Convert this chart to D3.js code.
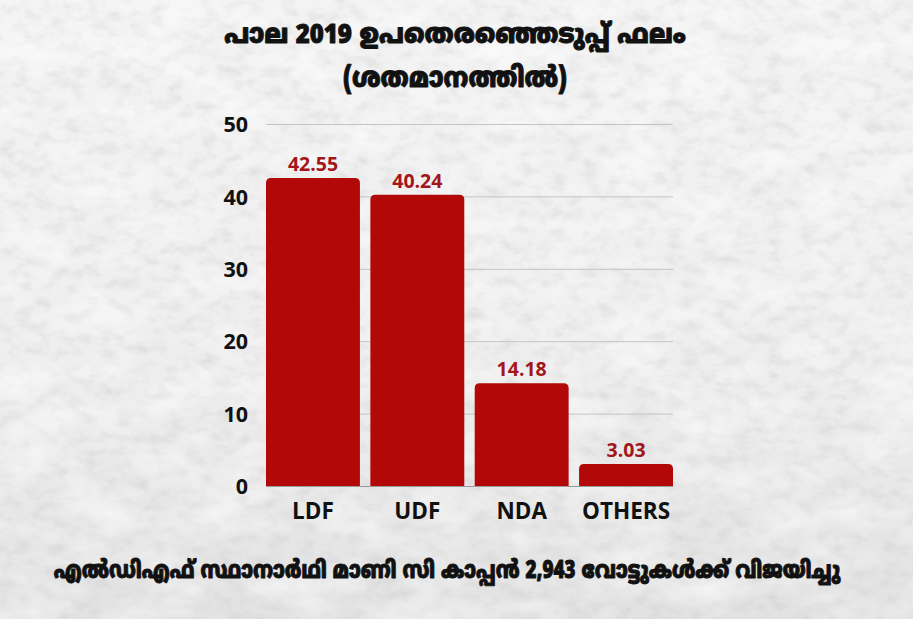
<!DOCTYPE html>
<html><head><meta charset="utf-8">
<script src="https://cdn.jsdelivr.net/npm/d3@7/dist/d3.min.js"></script>
<style>
html,body{margin:0;padding:0;background:#eee;}
svg{display:block;}
</style></head>
<body>
<svg id="c" width="913" height="619"></svg>
<script>
const categories = ["LDF","UDF","NDA","OTHERS"];
const values = [42.55, 40.24, 14.18, 3.03];
const valueLabels = ["42.55","40.24","14.18","3.03"];
const yTicks = [0,10,20,30,40,50];
const titleLines = ["പാല 2019 ഉപതെരഞ്ഞെടുപ്പ് ഫലം","(ശതമാനത്തിൽ)"];
const caption = "എൽഡിഎഫ് സ്ഥാനാർഥി മാണി സി കാപ്പൻ 2,943 വോട്ടുകൾക്ക് വിജയിച്ചു";

const W=913,H=619;
const svg=d3.select("#c");
const defs=svg.append("defs");
const f=defs.append("filter").attr("id","noise").attr("x",0).attr("y",0).attr("width","100%").attr("height","100%");
f.append("feTurbulence").attr("type","fractalNoise").attr("baseFrequency","0.06 0.09").attr("numOctaves",4).attr("seed",7).attr("result","t");
f.append("feColorMatrix").attr("in","t").attr("type","matrix")
 .attr("values","0 0 0 0 0.55  0 0 0 0 0.55  0 0 0 0 0.55  -2.2 0 0 0 1.25");
const f2=defs.append("filter").attr("id","noise2").attr("x",0).attr("y",0).attr("width","100%").attr("height","100%");
f2.append("feTurbulence").attr("type","fractalNoise").attr("baseFrequency","0.015 0.03").attr("numOctaves",3).attr("seed",2).attr("result","t");
f2.append("feColorMatrix").attr("in","t").attr("type","matrix")
 .attr("values","0 0 0 0 1  0 0 0 0 1  0 0 0 0 1  2 0 0 0 -0.8");
const g2=defs.append("linearGradient").attr("id","bg").attr("x1",0).attr("y1",0).attr("x2",0).attr("y2",1);
g2.append("stop").attr("offset","0").attr("stop-color","#f3f3f3");
g2.append("stop").attr("offset","0.6").attr("stop-color","#eeeeee");
g2.append("stop").attr("offset","1").attr("stop-color","#e2e2e2");
svg.append("rect").attr("width",W).attr("height",H).attr("fill","url(#bg)");
svg.append("rect").attr("width",W).attr("height",H).attr("filter","url(#noise)").attr("opacity",0.35);
svg.append("rect").attr("width",W).attr("height",H).attr("filter","url(#noise2)").attr("opacity",0.6);

const x=d3.scaleBand().domain(categories).range([266,673]).paddingInner(0.1).paddingOuter(0);
const y=d3.scaleLinear().domain([0,50]).range([486,124]);

// gridlines
svg.append("g").selectAll("line").data(yTicks).join("line")
 .attr("x1",266).attr("x2",673).attr("y1",d=>y(d)+0.5).attr("y2",d=>y(d)+0.5)
 .attr("stroke","#c4c4c4").attr("stroke-width",1);

// y axis labels
const yAxis=d3.axisLeft(y).tickValues(yTicks).tickSize(0).tickPadding(0);
const ya=svg.append("g").attr("transform","translate(248,0)").call(yAxis);
ya.select(".domain").remove();
ya.selectAll("text").attr("font-family","'Open Sans',sans-serif").attr("font-weight",700)
 .attr("font-size",21.5).attr("fill","#111").attr("dy","0.36em");

// bars with rounded top
const r=5;
svg.append("g").selectAll("path").data(values).join("path")
 .attr("fill","#b30808")
 .attr("d",(d,i)=>{const x0=x(categories[i]),w=x.bandwidth(),y0=y(d),y1=y(0);
   return `M${x0},${y1}V${y0+r}Q${x0},${y0} ${x0+r},${y0}H${x0+w-r}Q${x0+w},${y0} ${x0+w},${y0+r}V${y1}Z`;});

// baseline
svg.append("line").attr("x1",266).attr("x2",673).attr("y1",y(0)+0.5).attr("y2",y(0)+0.5).attr("stroke","#9a9a9a");

// value labels
svg.append("g").selectAll("text").data(values).join("text")
 .attr("x",(d,i)=>x(categories[i])+x.bandwidth()/2).attr("y",d=>y(d)-7)
 .attr("text-anchor","middle").attr("font-family","'Open Sans',sans-serif").attr("font-weight",700)
 .attr("font-size",19.5).attr("fill","#a3151b").text((d,i)=>valueLabels[i]);

// x axis labels
const xAxis=d3.axisBottom(x).tickSize(0).tickPadding(0);
const xa=svg.append("g").attr("transform","translate(0,519)").call(xAxis);
xa.select(".domain").remove();
xa.selectAll("text").attr("font-family","'Open Sans',sans-serif").attr("font-weight",700)
 .attr("font-size",22.5).attr("fill","#111").attr("dy",0);

// title & caption, horizontally condensed via transform
const mal="'Noto Sans Malayalam','Manjari','Meera','Noto Sans',sans-serif";
function heavyText(str,cx,by,size,targetW){
  const g=svg.append("g");
  const t=g.append("text").attr("x",0).attr("y",0).attr("text-anchor","middle")
   .attr("font-family",mal).attr("font-weight",900).attr("font-size",size).attr("fill","#111")
   .attr("stroke","#111").attr("stroke-width",0.9).attr("stroke-linejoin","round").text(str);
  const len=t.node().getComputedTextLength();
  const sx=Math.min(1,targetW/len);
  g.attr("transform",`translate(${cx},${by}) scale(${sx},1)`);
}
heavyText(titleLines[0],455,43,27,462);
heavyText(titleLines[1],455,87,28,224);
heavyText(caption,447,578,24,787);
</script>
</body></html>
